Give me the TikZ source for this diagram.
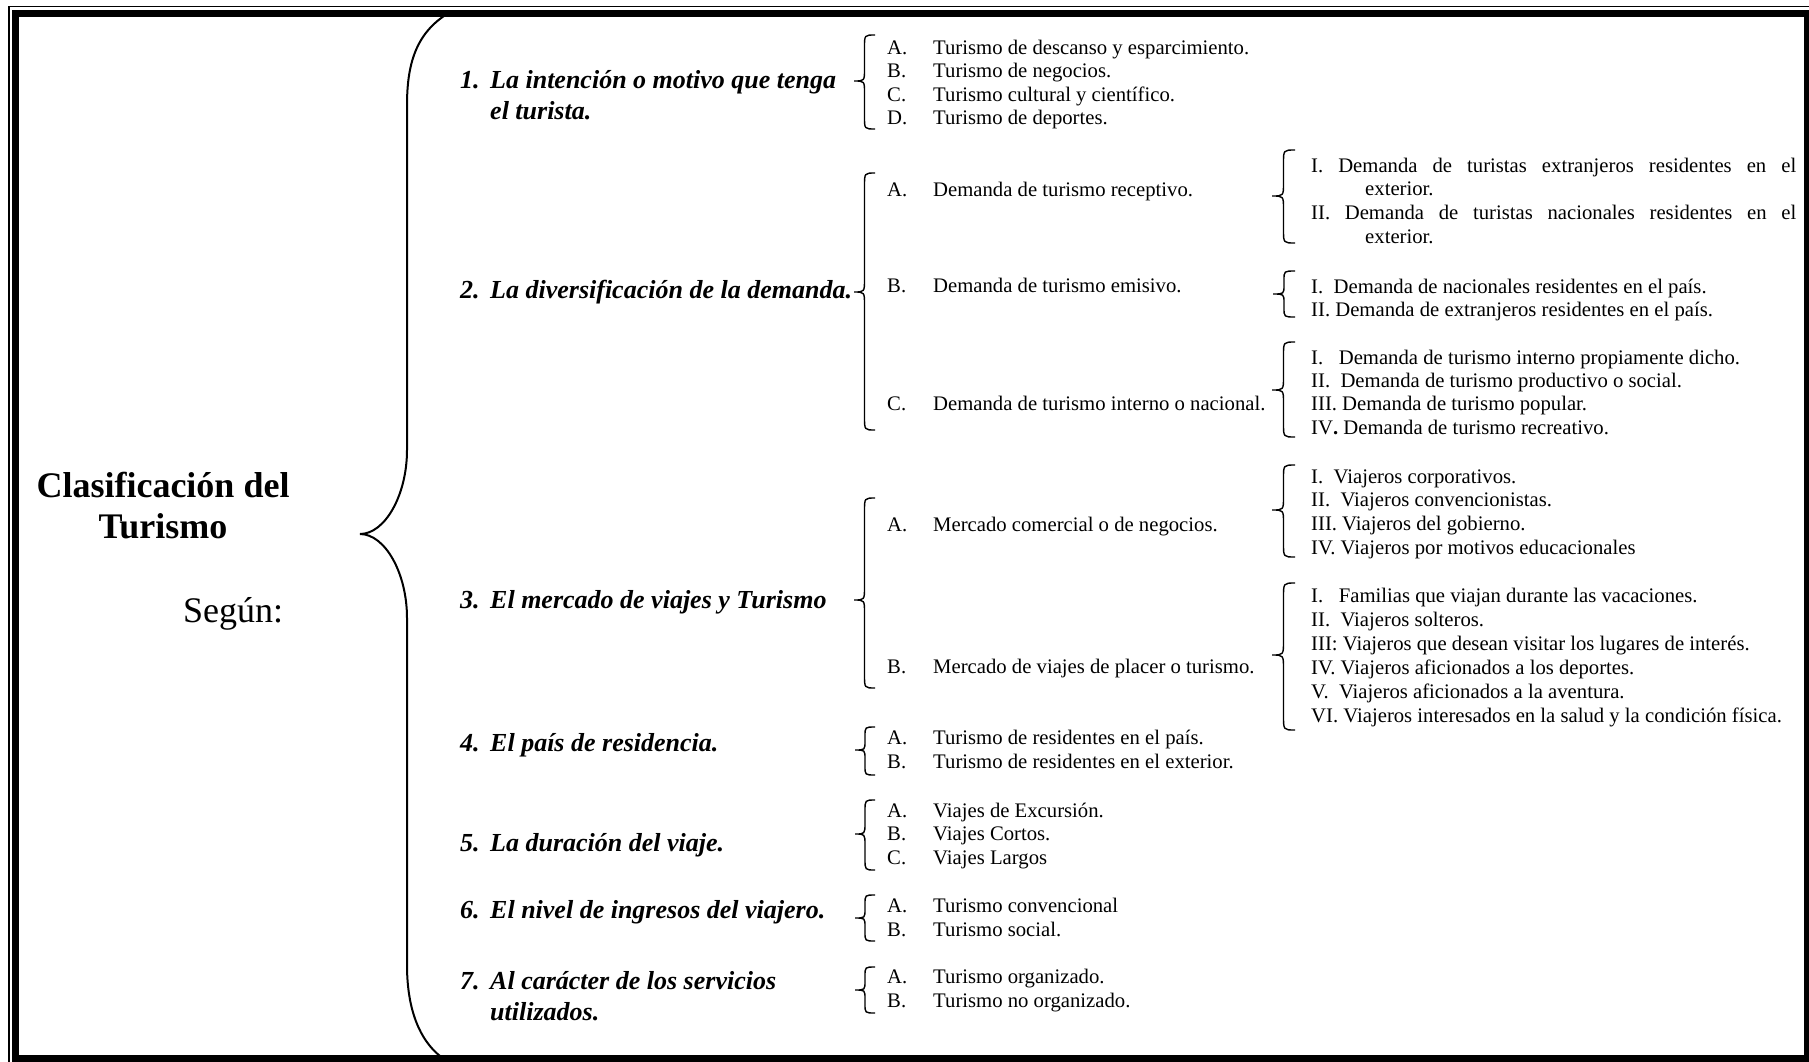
\documentclass[tikz,border=0pt]{standalone}
\usepackage{fontspec}
\setmainfont{Liberation Serif}
\usepackage{tikz}

% letter column of the lists
\newcommand{\itmark}[1]{\makebox[46pt][l]{#1}}
% curly brace: x of the ends, top, bottom, tip, width, curl
\newcommand{\curly}[6]{%
  \draw[brc] (#1,#2) .. controls (#1-#5/2,#2) .. (#1-#5/2,#2+#6)
    -- (#1-#5/2,#4-#6) .. controls (#1-#5/2,#4) .. (#1-#5,#4)
    .. controls (#1-#5/2,#4) .. (#1-#5/2,#4+#6)
    -- (#1-#5/2,#3-#6) .. controls (#1-#5/2,#3) .. (#1,#3);}

\begin{document}
\begin{tikzpicture}[x=1pt,y=-1pt,
	  every node/.style={inner sep=0pt,anchor=base west},
	  title/.style={font=\fontsize{36}{41}\selectfont\bfseries,align=center,anchor=base},
	  crit/.style={font=\fontsize{26}{31}\selectfont\bfseries\itshape,align=left},
	  lst/.style={font=\fontsize{20.7}{#1}\selectfont,align=left},
	  lst/.default=23.7,
	  brc/.style={line width=1.4pt},
	  bigbrc/.style={line width=2pt}]

	  \useasboundingbox (0,0) rectangle (1809,1061);
	  % double frame
	  \draw[line width=1.3pt] (9,6.5) rectangle (1830,1090);
	  \draw[line width=6.8pt] (15.6,13.3) rectangle (1807.5,1058.5);

	  % title (multi-line nodes sit on their last baseline)
	  \node[title] (titulo) at (163,538) {Clasificación del\\Turismo};
	  \node[font=\fontsize{36}{41}\selectfont] (segun) at (183,622) {Según:};
	  \draw[bigbrc] (452,11) .. controls (418,30) and (407,60) .. (407,105) -- (407,450)
	    .. controls (407,495) and (385,534) .. (360,534)
	    .. controls (385,534) and (407,573) .. (407,618) -- (407,965)
	    .. controls (407,1010) and (420,1040) .. (440,1056);

	  % criteria
	  \node[crit] (c1) at (460,119) {\makebox[30pt][l]{1.}La intención o motivo que tenga\\\hspace*{30pt}el turista.};
	  \node[crit] (c2) at (460,298) {\makebox[30pt][l]{2.}La diversificación de la demanda.};
	  \node[crit] (c3) at (460,608) {\makebox[30pt][l]{3.}El mercado de viajes y Turismo};
	  \node[crit] (c4) at (460,751) {\makebox[30pt][l]{4.}El país de residencia.};
	  \node[crit] (c5) at (460,851) {\makebox[30pt][l]{5.}La duración del viaje.};
	  \node[crit] (c6) at (460,918) {\makebox[30pt][l]{6.}El nivel de ingresos del viajero.};
	  \node[crit] (c7) at (460,1020) {\makebox[30pt][l]{7.}Al carácter de los servicios\\\hspace*{30pt}utilizados.};

	  % second level
	  \node[lst=23.5] (motivo) at (887,124.5) {\itmark{A.}Turismo de descanso y esparcimiento.\\\itmark{B.}Turismo de negocios.\\\itmark{C.}Turismo cultural y científico.\\\itmark{D.}Turismo de deportes.};
	  \node[lst] (dema) at (887,196) {\itmark{A.}Demanda de turismo receptivo.};
	  \node[lst] (demb) at (887,292) {\itmark{B.}Demanda de turismo emisivo.};
	  \node[lst] (demc) at (887,410) {\itmark{C.}Demanda de turismo interno o nacional.};
	  \node[lst] (mera) at (887,531) {\itmark{A.}Mercado comercial o de negocios.};
	  \node[lst] (merb) at (887,673) {\itmark{B.}Mercado de viajes de placer o turismo.};
	  \node[lst=24] (pais) at (887,768) {\itmark{A.}Turismo de residentes en el país.\\\itmark{B.}Turismo de residentes en el exterior.};
	  \node[lst=23.5] (durac) at (887,864) {\itmark{A.}Viajes de Excursión.\\\itmark{B.}Viajes Cortos.\\\itmark{C.}Viajes Largos};
	  \node[lst=24] (ingreso) at (887,936) {\itmark{A.}Turismo convencional\\\itmark{B.}Turismo social.};
	  \node[lst=24] (servic) at (887,1007) {\itmark{A.}Turismo organizado.\\\itmark{B.}Turismo no organizado.};

	  \curly{875}{35}{129}{81}{21}{12}
	  \curly{875}{173}{430}{292}{21}{13}
	  \curly{875}{498}{688}{600}{21}{13}
	  \curly{875}{727}{775}{750}{20}{9}
	  \curly{875}{800}{870}{834}{20}{11}
	  \curly{875}{895}{941}{918}{20}{9}
	  \curly{875}{967}{1013}{990}{20}{9}

	  % third level
	  \node[lst=23.8] (recep) at (1311,243.4) {\makebox[485pt][s]{I. Demanda de turistas extranjeros residentes en el}\\\hspace*{54pt}exterior.\\\makebox[485pt][s]{II. Demanda de turistas nacionales residentes en el}\\\hspace*{54pt}exterior.};
	  \node[lst=23] (emis) at (1311,316) {I.~~Demanda de nacionales residentes en el país.\\II. Demanda de extranjeros residentes en el país.};
	  \node[lst=23.3] (intern) at (1311,434) {I.~~~Demanda de turismo interno propiamente dicho.\\II.~~Demanda de turismo productivo o social.\\III. Demanda de turismo popular.\\IV\textbf{.} Demanda de turismo recreativo.};
	  \node[lst=23.6] (comer) at (1311,554) {I.~~Viajeros corporativos.\\II.~~Viajeros convencionistas.\\III. Viajeros del gobierno.\\IV. Viajeros por motivos educacionales};
	  \node[lst=24] (placer) at (1311,722) {I.~~~Familias que viajan durante las vacaciones.\\II.~~Viajeros solteros.\\III: Viajeros que desean visitar los lugares de interés.\\IV. Viajeros aficionados a los deportes.\\V.~~Viajeros aficionados a la aventura.\\VI. Viajeros interesados en la salud y la condición física.};

	  \curly{1295}{150}{243}{196}{23}{13}
	  \curly{1295}{271}{317}{294}{22}{9}
	  \curly{1295}{342}{437}{390}{23}{13}
	  \curly{1295}{465}{557}{510}{23}{13}
	  \curly{1295}{583}{730}{655}{23}{14}
\end{tikzpicture}
\end{document}
